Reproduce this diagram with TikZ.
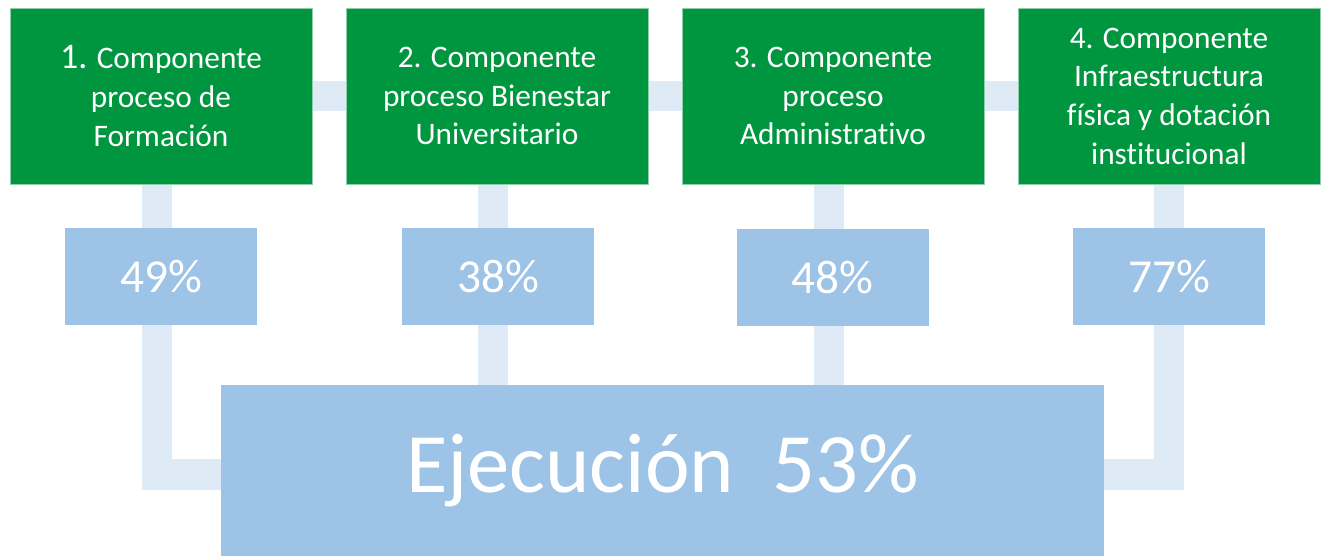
\documentclass[tikz,border=0pt]{standalone}
\usepackage{fontspec}
\setmainfont[Ligatures=NoCommon]{Carlito}
\usepackage{tikz}
\usetikzlibrary{backgrounds}
\definecolor{compGreen}{RGB}{0,150,64}
\definecolor{pctBlue}{RGB}{157,195,230}
\definecolor{linkBlue}{RGB}{222,235,247}

\begin{document}
\begin{tikzpicture}[x=0.75pt,y=-0.75pt,
  comp/.style={fill=compGreen,draw=compGreen!45!white,line width=0.6pt,text=white,
    minimum width=226.5pt,minimum height=132pt,inner sep=0pt,align=center,
    font=\fontsize{23.5}{29}\selectfont},
  pct/.style={fill=pctBlue,text=white,minimum width=144pt,minimum height=72.75pt,
    inner sep=0pt,font=\fontsize{35.5}{42}\selectfont},
  link/.style={draw=linkBlue,line width=23pt}]

\useasboundingbox (0,0) rectangle (1321,556);

% components
\node[comp] (comp1) at (161,96) {{\fontsize{27}{29}\selectfont 1.} Componente\\proceso de\\Formación};
\node[comp] (comp2) at (497,96) {2. Componente\\proceso Bienestar\\Universitario};
\node[comp] (comp3) at (833,96) {3. Componente\\proceso\\Administrativo};
\node[comp] (comp4) at (1169,96) {4. Componente\\Infraestructura\\física y dotación\\institucional};

% percentages
\node[pct] (pct1) at (161,276.5) {49\%};
\node[pct] (pct2) at (498,276.5) {38\%};
\node[pct] (pct3) at (832.5,277.5) {48\%};
\node[pct] (pct4) at (1169,276.5) {77\%};

% total
\node[fill=pctBlue,text=white,minimum width=662.25pt,minimum height=128.25pt,inner sep=0pt,
  font=\fontsize{63.5}{70}\selectfont] (ejec) at (662.5,470.5) {Ejecución\ \ 53\%};

% connectors
\begin{scope}[on background layer]
\draw[link] (comp1.center) -- (comp4.center);
\draw[link] ([xshift=-3pt]comp1.center) |- ([yshift=-3pt]ejec.center);
\draw[link] ([xshift=-3pt]comp2.center) -- ([xshift=-3pt]comp2.center |- ejec.center);
\draw[link] ([xshift=-3pt]comp3.center) -- ([xshift=-3pt]comp3.center |- ejec.center);
\draw[link] (comp4.center) |- ([yshift=-3pt]ejec.center);
\end{scope}
\end{tikzpicture}
\end{document}
